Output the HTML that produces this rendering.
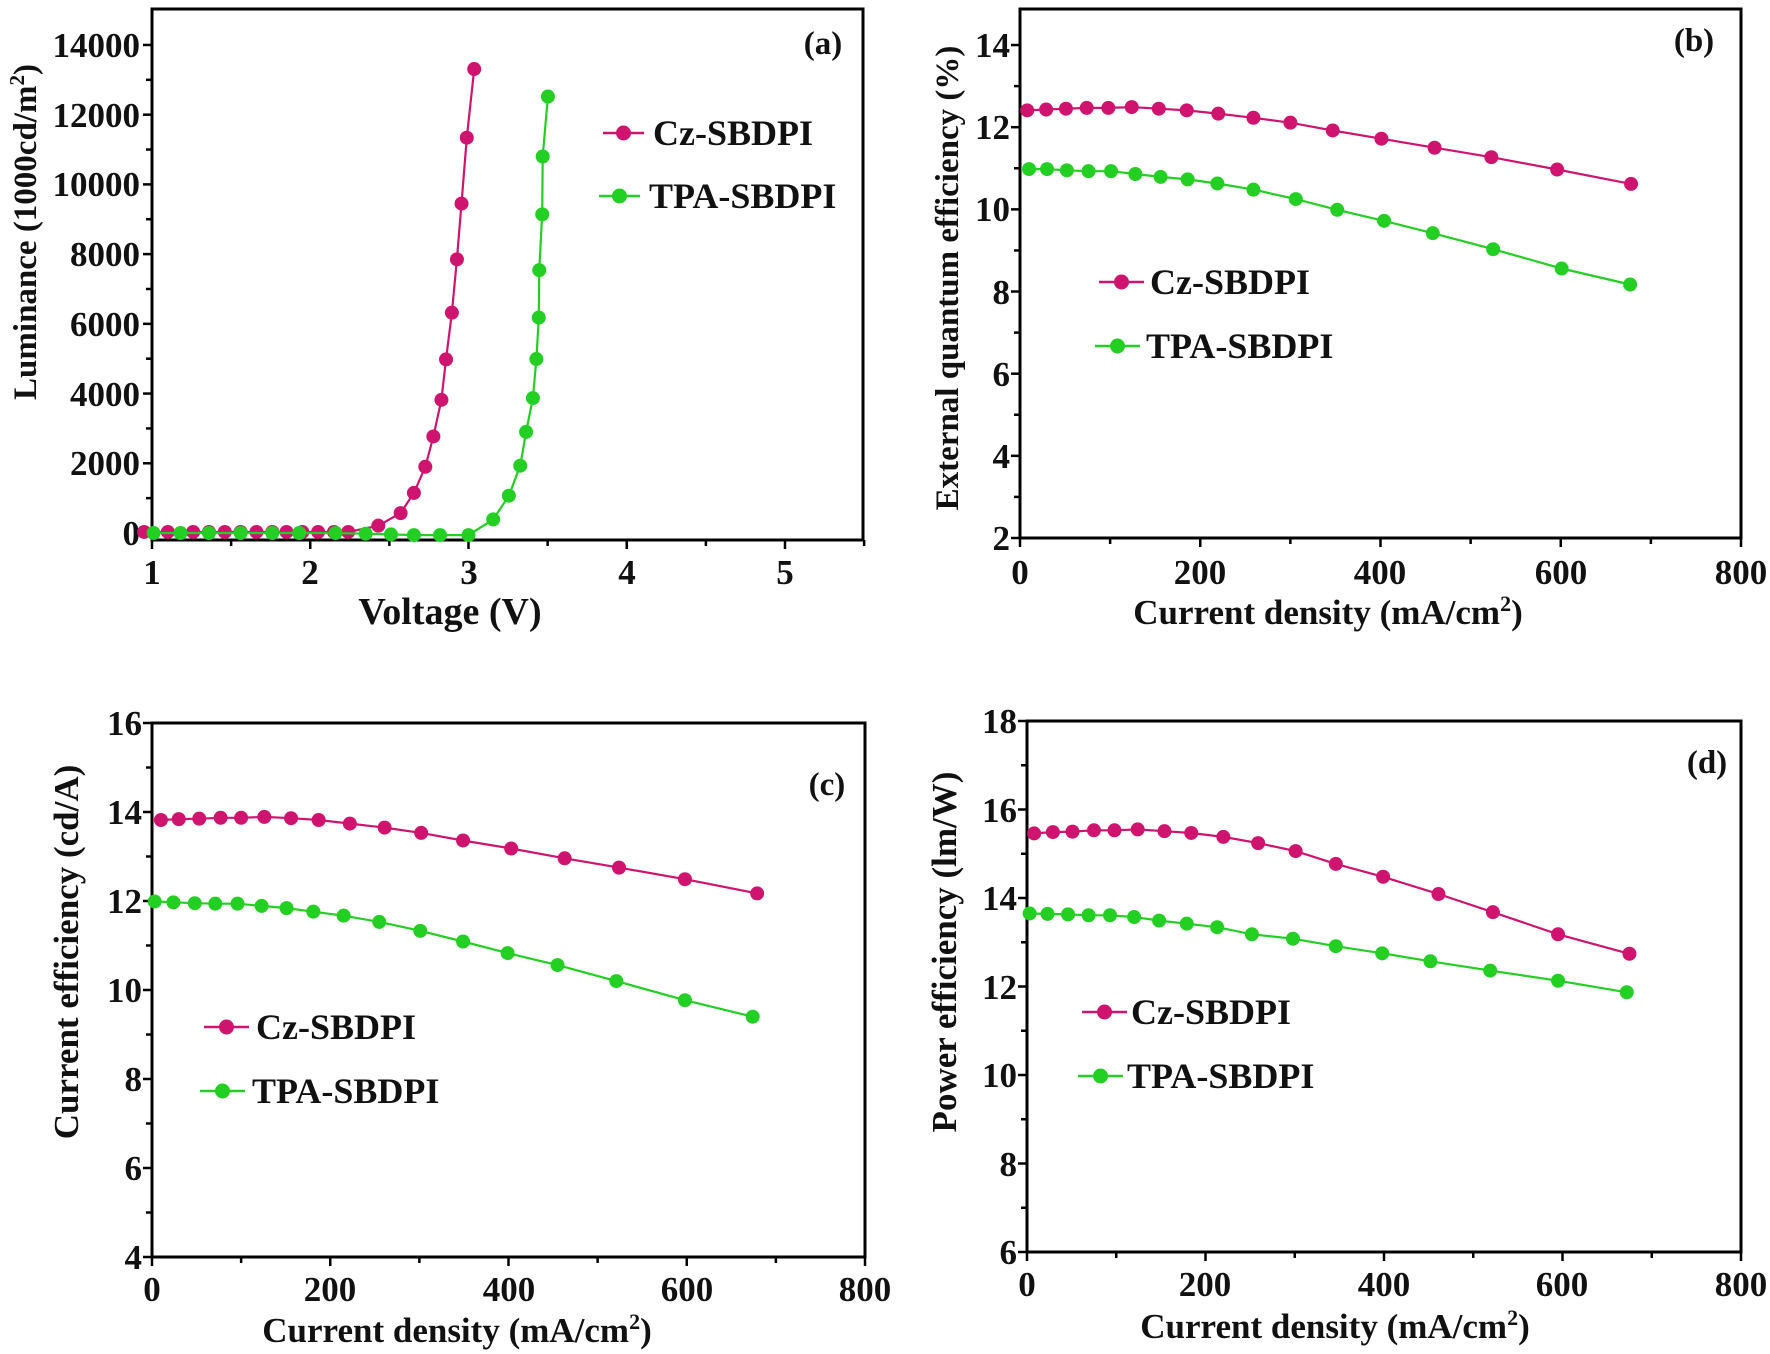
<!DOCTYPE html>
<html><head><meta charset="utf-8"><style>
html,body{margin:0;padding:0;background:#fff;}
svg{display:block;font-family:"Liberation Serif",serif;font-weight:bold;}
</style></head><body>
<svg id="s" width="1770" height="1354" viewBox="0 0 1770 1354" xmlns="http://www.w3.org/2000/svg">
<g fill="#111" font-size="35">
<g text-anchor="end">
<text x="140" y="545">0</text><text x="140" y="475">2000</text><text x="140" y="406">4000</text><text x="140" y="336">6000</text>
<text x="140" y="266">8000</text><text x="140" y="196">10000</text><text x="140" y="127">12000</text><text x="140" y="57">14000</text>
</g>
<g text-anchor="middle">
<text x="152" y="584">1</text><text x="310" y="584">2</text><text x="469" y="584">3</text><text x="627" y="584">4</text><text x="785" y="584">5</text>
</g>
<g text-anchor="end">
<text x="1010" y="57">14</text><text x="1010" y="139">12</text><text x="1010" y="221">10</text><text x="1010" y="304">8</text>
<text x="1010" y="386">6</text><text x="1010" y="468">4</text><text x="1010" y="550">2</text>
</g>
<g text-anchor="middle">
<text x="1020" y="584">0</text><text x="1200" y="584">200</text><text x="1380" y="584">400</text><text x="1561" y="584">600</text><text x="1741" y="584">800</text>
</g>
<g text-anchor="end">
<text x="142" y="735">16</text><text x="142" y="824">14</text><text x="142" y="913">12</text><text x="142" y="1002">10</text>
<text x="142" y="1091">8</text><text x="142" y="1180">6</text><text x="142" y="1269">4</text>
</g>
<g text-anchor="middle">
<text x="152" y="1301">0</text><text x="330" y="1301">200</text><text x="509" y="1301">400</text><text x="687" y="1301">600</text><text x="865" y="1301">800</text>
</g>
<g text-anchor="end">
<text x="1017" y="733">18</text><text x="1017" y="822">16</text><text x="1017" y="910">14</text><text x="1017" y="999">12</text>
<text x="1017" y="1087">10</text><text x="1017" y="1176">8</text><text x="1017" y="1264">6</text>
</g>
<g text-anchor="middle">
<text x="1027" y="1296">0</text><text x="1205" y="1296">200</text><text x="1384" y="1296">400</text><text x="1562" y="1296">600</text><text x="1741" y="1296">800</text>
</g>
</g>
<g fill="#111" font-size="35" text-anchor="middle">
<text x="450" y="624" font-size="38">Voltage (V)</text>
<text x="1328" y="624">Current density (mA/cm<tspan font-size="22" dy="-13">2</tspan><tspan dy="13">)</tspan></text>
<text x="457" y="1342">Current density (mA/cm<tspan font-size="22" dy="-13">2</tspan><tspan dy="13">)</tspan></text>
<text x="1335" y="1338">Current density (mA/cm<tspan font-size="22" dy="-13">2</tspan><tspan dy="13">)</tspan></text>
<text transform="translate(36,232) rotate(-90)" font-size="33">Luminance (1000cd/m<tspan font-size="21" dy="-12">2</tspan><tspan dy="12">)</tspan></text>
<text transform="translate(958,278) rotate(-90)" font-size="33">External quantum efficiency (%)</text>
<text transform="translate(78,952) rotate(-90)">Current efficiency (cd/A)</text>
<text transform="translate(956,952) rotate(-90)">Power efficiency (lm/W)</text>
</g>
<g fill="#111" font-size="33" text-anchor="middle">
<text x="823" y="54">(a)</text><text x="1694" y="51">(b)</text><text x="827" y="795">(c)</text><text x="1707" y="773">(d)</text>
</g>
<g fill="#111" font-size="36">
<text x="653" y="145">Cz-SBDPI</text><text x="649" y="208">TPA-SBDPI</text>
<text x="1150" y="294">Cz-SBDPI</text><text x="1146" y="358">TPA-SBDPI</text>
<text x="256" y="1039">Cz-SBDPI</text><text x="252" y="1103">TPA-SBDPI</text>
<text x="1131" y="1024">Cz-SBDPI</text><text x="1127" y="1088">TPA-SBDPI</text>
</g>
<g id="dyn"></g>
</svg>
<script>
var NS="http://www.w3.org/2000/svg",g=document.getElementById("dyn");
function el(t,a){var e=document.createElementNS(NS,t);for(var k in a)e.setAttribute(k,a[k]);g.appendChild(e);return e;}
var PK="#cf1470",GR="#22cf22";
function frame(L,T,R,B){el("rect",{x:L,y:T,width:R-L,height:B-T,fill:"none",stroke:"#000","stroke-width":3});}
function yt(L,v0,v1,step,Y){for(var v=v0;v<=v1+1e-9;v+=step){var y=Y(v);var maj=Math.abs(Math.round(v/(step*2))*(step*2)-v)<1e-6;el("line",{x1:L-(maj?9:6),y1:y,x2:L,y2:y,stroke:"#000","stroke-width":2.5});}}
function xt(B,v0,v1,step,X){for(var v=v0;v<=v1+1e-9;v+=step){var x=X(v);var maj=Math.abs(Math.round(v/(step*2))*(step*2)-v)<1e-6;el("line",{x1:x,y1:B,x2:x,y2:B+(maj?9:6),stroke:"#000","stroke-width":2.5});}}
function series(pts,X,Y,c){var d="";pts.forEach(function(p,i){d+=(i?"L":"M")+X(p[0]).toFixed(1)+" "+Y(p[1]).toFixed(1);});
el("path",{d:d,fill:"none",stroke:c,"stroke-width":2.2});pts.forEach(function(p){el("circle",{cx:X(p[0]),cy:Y(p[1]),r:7,fill:c});});}
function leg(x1,x2,y,c){el("line",{x1:x1,y1:y,x2:x2,y2:y,stroke:c,"stroke-width":2.5});el("circle",{cx:(x1+x2)/2,cy:y,r:7.5,fill:c});}
function zip(xs,ys){return xs.map(function(x,i){return [x,ys[i]];});}
(function(){var X=function(v){return 152+(v-1)*158.25},Y=function(v){return 533-v*0.03486};
frame(152,9,863,540);yt(152,0,14000,1000,Y);xt(540,1,5.5,0.5,X);
var cz=[[0.95,30],[1.1,30],[1.26,30],[1.36,30],[1.46,30],[1.56,30],[1.66,30],[1.76,30],[1.85,30],[1.95,30],[2.05,30],[2.15,30],[2.24,30],[2.43,210],[2.571,570],[2.655,1150],[2.727,1900],[2.778,2770],[2.829,3820],[2.858,4980],[2.895,6320],[2.927,7850],[2.956,9450],[2.989,11340],[3.036,13310]];
var tp=[[1.01,0],[1.18,0],[1.36,0],[1.56,0],[1.76,0],[1.93,0],[2.16,0],[2.35,-20],[2.51,-40],[2.655,-60],[2.82,-60],[3.0,-60],[3.156,390],[3.255,1070],[3.327,1930],[3.364,2900],[3.407,3870],[3.429,4990],[3.444,6180],[3.447,7540],[3.466,9140],[3.469,10800],[3.502,12520]];
series(cz,X,Y,PK);series(tp,X,Y,GR);leg(603,644,133,PK);leg(599,640,196,GR);})();
(function(){var X=function(v){return 1020+v*0.90125},Y=function(v){return 538-(v-2)*41.08};
frame(1020,9,1741,538);yt(1020,2,14,1,Y);xt(538,0,800,100,X);
series(zip([8,29,51,74,98,124,154,185,220,259,300,347,401,460,523,596,678],[12.41,12.43,12.45,12.47,12.47,12.49,12.45,12.41,12.33,12.23,12.11,11.92,11.72,11.50,11.27,10.97,10.62]),X,Y,PK);
series(zip([10,30,52,76,101,128,156,186,219,259,306,352,404,458,525,601,677],[10.98,10.98,10.95,10.93,10.93,10.86,10.79,10.73,10.63,10.48,10.25,9.99,9.72,9.42,9.03,8.56,8.17]),X,Y,GR);
leg(1099,1144,282,PK);leg(1095,1140,346,GR);})();
(function(){var X=function(v){return 152+v*0.89125},Y=function(v){return 1257-(v-4)*44.5};
frame(152,723,865,1257);yt(152,4,16,1,Y);xt(1257,0,800,100,X);
series(zip([10,30,53,77,100,126,156,187,222,261,302,349,403,463,524,598,679],[13.82,13.84,13.85,13.87,13.87,13.89,13.86,13.82,13.74,13.65,13.53,13.36,13.18,12.96,12.75,12.49,12.17]),X,Y,PK);
series(zip([3,24,48,71,96,123,151,181,215,255,301,349,399,455,521,598,674],[11.99,11.97,11.95,11.94,11.94,11.89,11.84,11.76,11.67,11.53,11.33,11.09,10.83,10.56,10.20,9.77,9.40]),X,Y,GR);
leg(204,249,1027,PK);leg(200,245,1091,GR);})();
(function(){var X=function(v){return 1027+v*0.8925},Y=function(v){return 1252-(v-6)*44.25};
frame(1027,721,1741,1252);yt(1027,6,18,1,Y);xt(1252,0,800,100,X);
series(zip([8,29,51,75,98,124,154,184,220,259,301,346,399,461,522,595,675],[15.46,15.49,15.50,15.53,15.53,15.55,15.51,15.47,15.38,15.24,15.06,14.77,14.48,14.09,13.68,13.18,12.74]),X,Y,PK);
series(zip([3,23,46,69,93,120,148,179,213,252,298,346,398,452,519,595,672],[13.65,13.64,13.63,13.61,13.61,13.57,13.49,13.42,13.34,13.18,13.08,12.91,12.75,12.57,12.36,12.13,11.87]),X,Y,GR);
leg(1082,1127,1012,PK);leg(1078,1123,1076,GR);})();
</script>
</body></html>
